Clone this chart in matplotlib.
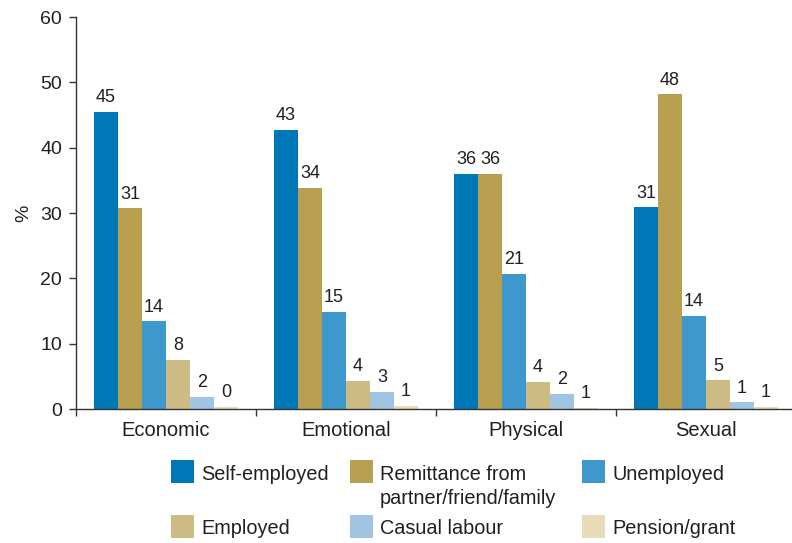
import matplotlib
matplotlib.use("Agg")
import matplotlib.pyplot as plt
import numpy as np
from matplotlib.patches import Rectangle

plt.rcParams['font.family'] = ['Liberation Sans', 'DejaVu Sans']

categories = ["Economic", "Emotional", "Physical", "Sexual"]
series_names = ["Self-employed", "Remittance from\npartner/friend/family", "Unemployed",
                "Employed", "Casual labour", "Pension/grant"]

self_employed = [45.5, 42.7, 36.0, 30.9]
remittance = [30.7, 33.9, 36.0, 48.2]
unemployed = [13.4, 14.9, 20.7, 14.3]
employed = [7.5, 4.3, 4.2, 4.4]
casual = [1.9, 2.6, 2.3, 1.0]
pension = [0.35, 0.5, 0.2, 0.35]

# printed labels (rounded in the source)
self_employed_lbl = ["45", "43", "36", "31"]
remittance_lbl = ["31", "34", "36", "48"]
unemployed_lbl = ["14", "15", "21", "14"]
employed_lbl = ["8", "4", "4", "5"]
casual_lbl = ["2", "3", "2", "1"]
pension_lbl = ["0", "1", "1", "1"]

values = [self_employed, remittance, unemployed, employed, casual, pension]
labels = [self_employed_lbl, remittance_lbl, unemployed_lbl, employed_lbl, casual_lbl, pension_lbl]
colors = ["#0077B6", "#B89F4F", "#3E98CD", "#CDBB84", "#A0C4E2", "#E8DCB8"]
text_col = "#231F20"

W, H = 792, 543
fig = plt.figure(figsize=(W / 100, H / 100), dpi=100)
ax = fig.add_axes([76/W, 134/H, 720/W, 392/H])

x = np.arange(len(categories))
width = 0.8 / 6
for i, (vals, lbls) in enumerate(zip(values, labels)):
    pos = x - 0.4 + width * (i + 0.5)
    ax.bar(pos, vals, width, color=colors[i], linewidth=0)
    for px, v, t in zip(pos, vals, lbls):
        ax.annotate(t, (px, v), xytext=(0, 4), textcoords="offset points",
                    ha="center", va="bottom", fontsize=13, color=text_col)

ax.set_xlim(-0.5, 3.5)
ax.set_ylim(0, 60)
ax.set_yticks(range(0, 61, 10))
ax.set_xticks([-0.5, 0.5, 1.5, 2.5, 3.5])
ax.set_xticklabels([])
ax.set_xticks(x, minor=True)
ax.set_xticklabels(categories, minor=True, fontsize=14.5, color=text_col)
ax.tick_params(axis="x", which="minor", length=0, pad=9)
ax.tick_params(axis="x", which="major", length=5, width=1, color="#333333")
ax.tick_params(axis="y", length=5, width=1, pad=5, labelsize=14, labelcolor=text_col, color="#333333")
for s in ["top", "right"]:
    ax.spines[s].set_visible(False)
for s in ["left", "bottom"]:
    ax.spines[s].set_color("#333333")
    ax.spines[s].set_linewidth(1)

fig.text(24 / W, 1 - 213 / H, "%", rotation=90, ha="center", va="center",
         fontsize=14, color=text_col)

# legend drawn by hand: 3 columns, 2 rows
col_x = [171, 350, 582]
row_y = [460, 515]
order = [(0, 0), (0, 1), (0, 2), (1, 0), (1, 1), (1, 2)]
for (r, c), name, col in zip(order, series_names, colors):
    px, py = col_x[c], row_y[r]
    fig.add_artist(Rectangle((px / W, 1 - (py + 23) / H), 23 / W, 23 / H,
                             transform=fig.transFigure, color=col, linewidth=0))
    lines = name.split("\n")
    for k, line in enumerate(lines):
        fig.text((px + 30) / W, 1 - (py + 14 + 24 * k) / H, line,
                 ha="left", va="center", fontsize=14.3, color=text_col)

fig.savefig("out.png", dpi=100)
